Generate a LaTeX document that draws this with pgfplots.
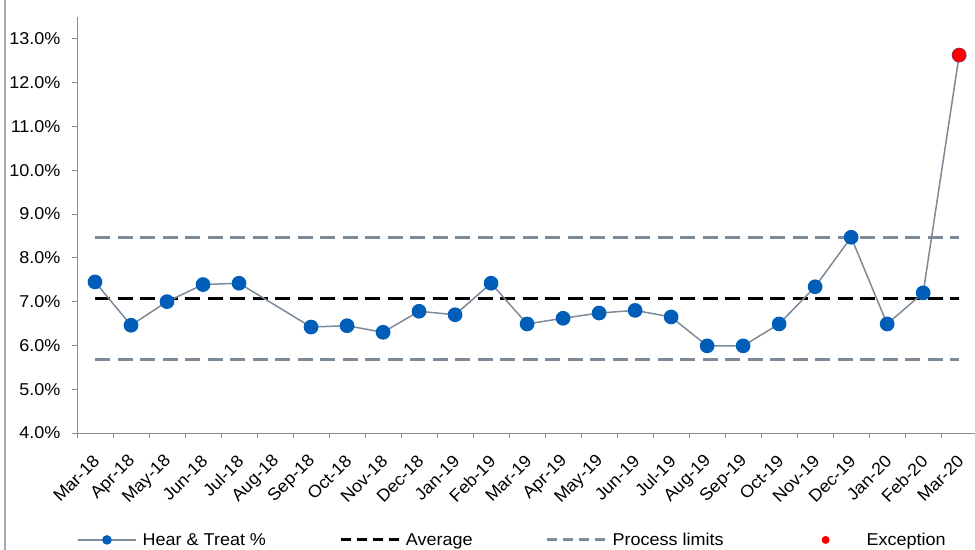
\documentclass[border=0pt]{standalone}
\usepackage{pgfplots}
\pgfplotsset{compat=1.18}
\usepackage{fontspec}
\setmainfont{Liberation Sans}[FakeStretch=1.05]
\definecolor{nhsblue}{HTML}{005EB8}
\definecolor{linegray}{HTML}{7D8A97}
\definecolor{axisgray}{HTML}{8C8C8C}
\newcommand{\lblfont}{\fontsize{17.2}{19}\selectfont}
\begin{document}
\begin{tikzpicture}
\path[use as bounding box] (0,0) rectangle (975bp,550bp);
\draw[linegray!70, line width=1.2bp] (5bp,0) -- (5bp,550bp);
\begin{axis}[
  at={(77bp,117bp)}, anchor=south west,
  scale only axis, width=898bp, height=416bp,
  xmin=-0.5, xmax=24.44, ymin=4, ymax=13.5,
  axis x line*=bottom, axis y line*=left,
  axis line style={draw=axisgray, line width=1bp, -},
  /pgf/number format/assume math mode=true,
  tick align=outside,
  major tick length=5bp, minor tick length=5bp,
  ytick={4,5,...,13},
  yticklabel={\pgfmathprintnumber[fixed,fixed zerofill,precision=1]{\tick}\%},
  ytick style={draw=axisgray, line width=1bp},
  xtick={0,1,...,24},
  major x tick style={draw=none},
  minor xtick={-0.5,0.5,...,24.5},
  minor x tick style={draw=axisgray, line width=1bp},
  xticklabels={Mar-18,Apr-18,May-18,Jun-18,Jul-18,Aug-18,Sep-18,Oct-18,Nov-18,Dec-18,Jan-19,Feb-19,Mar-19,Apr-19,May-19,Jun-19,Jul-19,Aug-19,Sep-19,Oct-19,Nov-19,Dec-19,Jan-20,Feb-20,Mar-20},
  xticklabel style={rotate=45, anchor=east, font=\lblfont, yshift=-15.5bp, xshift=-10bp},
  yticklabel style={font=\lblfont, xshift=-8bp},
  clip=false,
  legend columns=4,
  legend style={at={(0.0,-0.257)}, anchor=west, draw=none, inner sep=0pt, font=\lblfont,
    /tikz/every odd column/.append style={column sep=4bp},
    /tikz/every even column/.append style={column sep=71bp}},
  legend image code/.code={\draw[mark repeat=2,mark phase=2,#1] plot coordinates {(0bp,0bp) (29bp,0bp) (58bp,0bp)};},
]
\addlegendimage{linegray, line width=1.5bp, mark=*, mark size=4bp, mark options={fill=nhsblue, draw=nhsblue}}
\addlegendentry{Hear \& Treat \%}
\addlegendimage{black, line width=3bp, dash pattern=on 10bp off 6bp}
\addlegendentry{Average}
\addlegendimage{linegray, line width=3bp, dash pattern=on 10bp off 6bp}
\addlegendentry{Process limits}
\addlegendimage{legend image code/.code={\path[draw=none] (0bp,0bp) -- (64bp,0bp); \fill[red, draw=none] (29bp,0bp) circle (4bp);}}
\addlegendentry{Exception}

% process limits
\addplot[linegray, line width=3bp, dash pattern=on 15bp off 7.5bp, forget plot] coordinates {(0,8.47) (24,8.47)};
\addplot[linegray, line width=3bp, dash pattern=on 15bp off 7.5bp, forget plot] coordinates {(0,5.67) (24,5.67)};
% average
\addplot[black, line width=3bp, dash pattern=on 15bp off 7.5bp, forget plot] coordinates {(0,7.07) (24,7.07)};
% data
\addplot[linegray, line width=1.5bp, mark=*, mark size=6.6bp, mark options={fill=nhsblue, draw=nhsblue}, forget plot] coordinates {
(0,7.45) (1,6.46) (2,7.00) (3,7.39) (4,7.42) (6,6.42) (7,6.45) (8,6.30) (9,6.78) (10,6.70) (11,7.42) (12,6.49) (13,6.62) (14,6.74) (15,6.80) (16,6.65) (17,5.99) (18,5.99) (19,6.49) (20,7.34) (21,8.47) (22,6.49) (23,7.20) (24,12.63)};
% exception
\addplot[only marks, mark=*, mark size=6.8bp, red, forget plot] coordinates {(24,12.63)};
\end{axis}
\end{tikzpicture}
\end{document}
